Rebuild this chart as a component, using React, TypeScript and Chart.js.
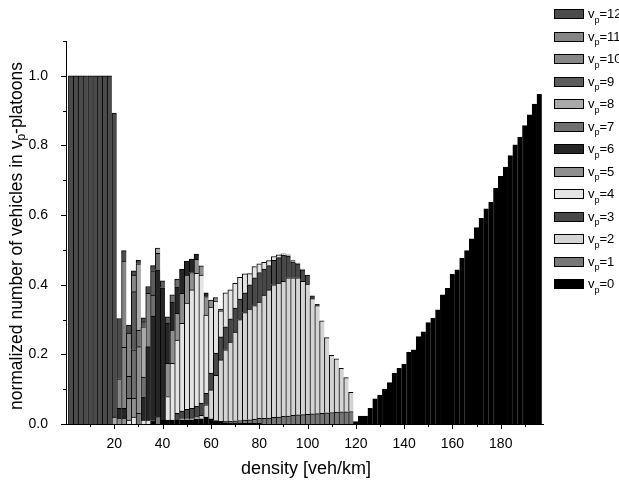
import React, { useEffect, useRef } from 'react';
import { Chart, registerables } from 'chart.js';

Chart.register(...registerables);

// density categories [veh/km]
const DENSITY = [
  2, 4, 6, 8, 10, 12, 14, 16, 18, 20,
  22, 24, 26, 28, 30, 32, 34, 36, 38, 40,
  42, 44, 46, 48, 50, 52, 54, 56, 58, 60,
  62, 64, 66, 68, 70, 72, 74, 76, 78, 80,
  82, 84, 86, 88, 90, 92, 94, 96, 98, 100,
  102, 104, 106, 108, 110, 112, 114, 116, 118, 120,
  122, 124, 126, 128, 130, 132, 134, 136, 138, 140,
  142, 144, 146, 148, 150, 152, 154, 156, 158, 160,
  162, 164, 166, 168, 170, 172, 174, 176, 178, 180,
  182, 184, 186, 188, 190, 192, 194, 196,
];

// normalized number of vehicles in v_p-platoons, one array per v_p (aligned with DENSITY)
const V0 = [
  0, 0, 0, 0, 0, 0, 0, 0, 0, 0,
  0, 0, 0, 0, 0, 0, 0, 0.01, 0, 0.011,
  0.011, 0.011, 0.011, 0.012, 0.012, 0.012, 0.015, 0.015, 0.02, 0.015,
  0.01, 0.008, 0.004, 0.003, 0.003, 0.003, 0.002, 0.002, 0.002, 0.002,
  0, 0, 0, 0, 0, 0, 0, 0, 0, 0,
  0, 0, 0, 0, 0, 0, 0, 0, 0, 0.007,
  0.023, 0.023, 0.045, 0.072, 0.083, 0.1, 0.119, 0.146, 0.16, 0.172,
  0.206, 0.213, 0.251, 0.265, 0.291, 0.304, 0.328, 0.371, 0.39, 0.43,
  0.443, 0.476, 0.498, 0.532, 0.564, 0.591, 0.618, 0.637, 0.677, 0.711,
  0.738, 0.771, 0.802, 0.824, 0.857, 0.888, 0.919, 0.947,
];
const V1 = [
  0, 0, 0, 0, 0, 0, 0, 0, 0, 0,
  0, 0, 0, 0, 0.031, 0, 0, 0, 0.021, 0,
  0, 0, 0, 0, 0, 0, 0, 0, 0, 0,
  0, 0, 0.004, 0.005, 0.006, 0.007, 0.009, 0.01, 0.012, 0.014,
  0.016, 0.017, 0.019, 0.02, 0.022, 0.023, 0.025, 0.026, 0.027, 0.028,
  0.029, 0.03, 0.031, 0.032, 0.033, 0.034, 0.035, 0.035, 0.036,
];
const V2 = [
  0, 0, 0, 0, 0, 0, 0, 0, 0, 0,
  0, 0, 0, 0, 0, 0, 0, 0, 0, 0,
  0, 0, 0, 0.005, 0.005, 0.005, 0.006, 0.01, 0.035, 0.083,
  0.13, 0.176, 0.205, 0.227, 0.255, 0.29, 0.309, 0.318, 0.326, 0.334,
  0.354, 0.368, 0.381, 0.385, 0.388, 0.397, 0.395, 0.394, 0.383, 0.374,
  0.331, 0.31, 0.265, 0.216, 0.164, 0.153, 0.125, 0.098, 0.055,
];
const V3 = [
  0, 0, 0, 0, 0, 0, 0, 0, 0, 0,
  0, 0, 0, 0, 0, 0, 0, 0, 0, 0,
  0, 0, 0.02, 0.02, 0.025, 0.028, 0.03, 0.035, 0.033, 0.048,
  0.064, 0.066, 0.066, 0.067, 0.069, 0.059, 0.057, 0.07, 0.08, 0.085,
  0.075, 0.07, 0.07, 0.073, 0.075, 0.062, 0.046, 0.04, 0.033, 0.026,
  0.008, 0.004,
];
const V4 = [
  0, 0, 0, 0, 0, 0, 0, 0, 0, 0,
  0, 0, 0.011, 0.02, 0, 0.011, 0.011, 0, 0, 0,
  0.068, 0.163, 0.21, 0.252, 0.305, 0.34, 0.382, 0.368, 0.225, 0.19,
  0.149, 0.075, 0.098, 0.083, 0.071, 0.062, 0.054, 0.032, 0.032, 0.025,
  0.019, 0.014, 0.011, 0.008, 0.004, 0.004, 0.003, 0.002, 0.002,
];
const V5 = [
  0, 0, 0, 0, 0, 0, 0, 0, 0, 0,
  0.017, 0.017, 0.063, 0.054, 0.191, 0, 0, 0, 0, 0,
  0.095, 0.096, 0.077, 0.086, 0.081, 0.05, 0.04, 0.026, 0.053, 0.02,
  0.01, 0.005,
];
const V6 = [
  0, 0, 0, 0, 0, 0, 0, 0, 0, 0,
  0.028, 0.028, 0, 0, 0, 0.067, 0.211, 0.3, 0.422, 0.38,
  0.116, 0.08, 0.076, 0.069, 0.04, 0.039, 0.015, 0, 0.011,
];
const V7 = [
  0, 0, 0, 0, 0, 0, 0, 0, 0, 0,
  0, 0, 0.063, 0.139, 0.048, 0.057, 0, 0.06, 0.047, 0,
  0, 0.021, 0.022,
];
const V8 = [
  0, 0, 0, 0, 0, 0, 0, 0, 0, 0.02,
  0, 0, 0, 0, 0.19, 0.144, 0, 0, 0.015,
];
const V9 = [
  0, 0, 0, 0, 0, 0, 0, 0, 0, 0,
  0, 0, 0, 0.167, 0, 0.015, 0, 0.07, 0, 0.02,
  0.018,
];
const V10 = [
  0, 0, 0, 0, 0, 0, 0, 0, 0, 0,
  0.085, 0.175, 0.124, 0.048, 0, 0, 0.153,
];
const V11 = [
  0, 0, 0, 0, 0, 0, 0, 0, 0, 0,
  0, 0.248,
];
const V12 = [
  1, 1, 1, 1, 1, 1, 1, 1, 1, 0.873,
  0.173, 0.03, 0.023, 0.012, 0.01, 0.011, 0.02, 0.015,
];

const VP_VALUES = ['0', '1', '2', '3', '4', '5', '6', '7', '8', '9', '10', '11', '12'];
const COLORS = [
  '#000000', '#777777', '#d4d4d4', '#484848', '#e4e4e4', '#8f8f8f', '#262626',
  '#6f6f6f', '#aaaaaa', '#5c5c5c', '#878787', '#858585', '#4b4b4b',
];

const X_TICKS_MINOR = [10, 20, 30, 40, 50, 60, 70, 80, 90, 100, 110, 120, 130, 140, 150, 160, 170, 180, 190];
const Y_TICKS_MINOR = [0, 0.1, 0.2, 0.3, 0.4, 0.5, 0.6, 0.7, 0.8, 0.9, 1.0, 1.1];

const FONT = "'Liberation Sans', Arial, Helvetica, sans-serif";

const decorPlugin = {
  id: 'decor',
  afterDraw(chart: any) {
    const ctx = chart.ctx as CanvasRenderingContext2D;
    const xs = chart.scales.x;
    const ys = chart.scales.y;
    const area = chart.chartArea;
    ctx.save();
    ctx.strokeStyle = '#000';
    ctx.lineWidth = 1;
    // x tick marks
    X_TICKS_MINOR.forEach((d) => {
      const px = Math.round(xs.getPixelForValue(d)) + 0.5;
      const len = d % 20 === 0 ? 5 : 3;
      ctx.beginPath();
      ctx.moveTo(px, area.bottom);
      ctx.lineTo(px, area.bottom + len);
      ctx.stroke();
    });
    // y tick marks
    Y_TICKS_MINOR.forEach((v, i) => {
      const py = Math.round(ys.getPixelForValue(v)) + 0.5;
      const len = i % 2 === 0 ? 5 : 3;
      ctx.beginPath();
      ctx.moveTo(area.left, py);
      ctx.lineTo(area.left - len, py);
      ctx.stroke();
    });

    // x title
    ctx.fillStyle = '#000';
    ctx.font = `18px ${FONT}`;
    ctx.textAlign = 'center';
    ctx.textBaseline = 'middle';
    ctx.fillText('density [veh/km]', 306, 469);

    // y title with subscript
    ctx.save();
    ctx.translate(16, 236);
    ctx.rotate(-Math.PI / 2);
    const t1 = 'normalized number of vehicles in v';
    const t2 = 'p';
    const t3 = '-platoons';
    ctx.font = `17.5px ${FONT}`;
    const w1 = ctx.measureText(t1).width;
    const w3 = ctx.measureText(t3).width;
    ctx.font = `12px ${FONT}`;
    const w2 = ctx.measureText(t2).width;
    let x0 = -(w1 + w2 + w3) / 2;
    ctx.textAlign = 'left';
    ctx.textBaseline = 'alphabetic';
    ctx.font = `17.5px ${FONT}`;
    ctx.fillText(t1, x0, 6);
    x0 += w1;
    ctx.font = `12px ${FONT}`;
    ctx.fillText(t2, x0, 9);
    x0 += w2;
    ctx.font = `17.5px ${FONT}`;
    ctx.fillText(t3, x0, 6);
    ctx.restore();

    // legend
    for (let k = VP_VALUES.length - 1; k >= 0; k--) {
      const row = VP_VALUES.length - 1 - k;
      const cy = 13.5 + row * 22.5;
      const bx = 554.5;
      const by = Math.round(cy - 4.5) + 0.5;
      ctx.fillStyle = COLORS[k];
      ctx.fillRect(bx, by, 29, 9);
      ctx.strokeStyle = '#000';
      ctx.strokeRect(bx, by, 29, 9);
      ctx.fillStyle = '#000';
      ctx.textAlign = 'left';
      ctx.textBaseline = 'alphabetic';
      ctx.font = `13px ${FONT}`;
      ctx.fillText('v', 588, cy + 4.5);
      const wv = ctx.measureText('v').width;
      ctx.font = `9px ${FONT}`;
      ctx.fillText('p', 588 + wv, cy + 9);
      const wp = ctx.measureText('p').width;
      ctx.font = `13px ${FONT}`;
      ctx.fillText('=' + VP_VALUES[k], 588 + wv + wp, cy + 4.5);
    }
    ctx.restore();
  },
};

export default function App() {
  const ref = useRef<HTMLCanvasElement>(null);
  useEffect(() => {
    const canvas = ref.current;
    if (!canvas) return;
    const series = [V0, V1, V2, V3, V4, V5, V6, V7, V8, V9, V10, V11, V12];
    const datasets = series.map((vals, k) => ({
      label: 'v_p=' + VP_VALUES[k],
      data: vals
        .map((v, i) => ({ x: DENSITY[i], y: v }))
        .filter((p) => p.y > 0),
      backgroundColor: COLORS[k],
      borderColor: '#000',
      borderWidth: { top: 1, left: 1, right: 0, bottom: 0 },
      borderSkipped: false as any,
      barPercentage: 1,
      categoryPercentage: 1,
    }));
    const chart = new Chart(canvas, {
      type: 'bar',
      data: { datasets } as any,
      options: {
        animation: false,
        responsive: false,
        maintainAspectRatio: false,
        layout: { padding: { left: 0, right: 76, top: 41, bottom: 0 } },
        plugins: { legend: { display: false }, tooltip: { enabled: false } },
        scales: {
          x: {
            type: 'linear',
            stacked: true,
            min: 0,
            max: 197.5,
            offset: false,
            grid: { display: false },
            border: { display: true, color: '#000', width: 1 },
            ticks: {
              stepSize: 20,
              includeBounds: false,
              autoSkip: false,
              maxRotation: 0,
              color: '#000',
              padding: 4,
              font: { family: FONT, size: 14 },
              callback: (v: any) => (Number(v) === 0 ? '' : String(v)),
            },
            afterFit: (s: any) => {
              s.height = 65;
            },
          },
          y: {
            stacked: true,
            min: 0,
            max: 1.1,
            grid: { display: false },
            border: { display: true, color: '#000', width: 1 },
            ticks: {
              stepSize: 0.2,
              includeBounds: false,
              color: '#000',
              padding: 10,
              font: { family: FONT, size: 14 },
              callback: (v: any) => Number(v).toFixed(1),
            },
            afterFit: (s: any) => {
              s.width = 66;
            },
          },
        },
      } as any,
      plugins: [decorPlugin],
    });
    return () => chart.destroy();
  }, []);
  return (
    <div style={{ position: 'absolute', left: 0, top: 0, width: 619, height: 489, background: '#fff' }}>
      <canvas ref={ref} width={619} height={489} style={{ display: 'block' }} />
    </div>
  );
}
